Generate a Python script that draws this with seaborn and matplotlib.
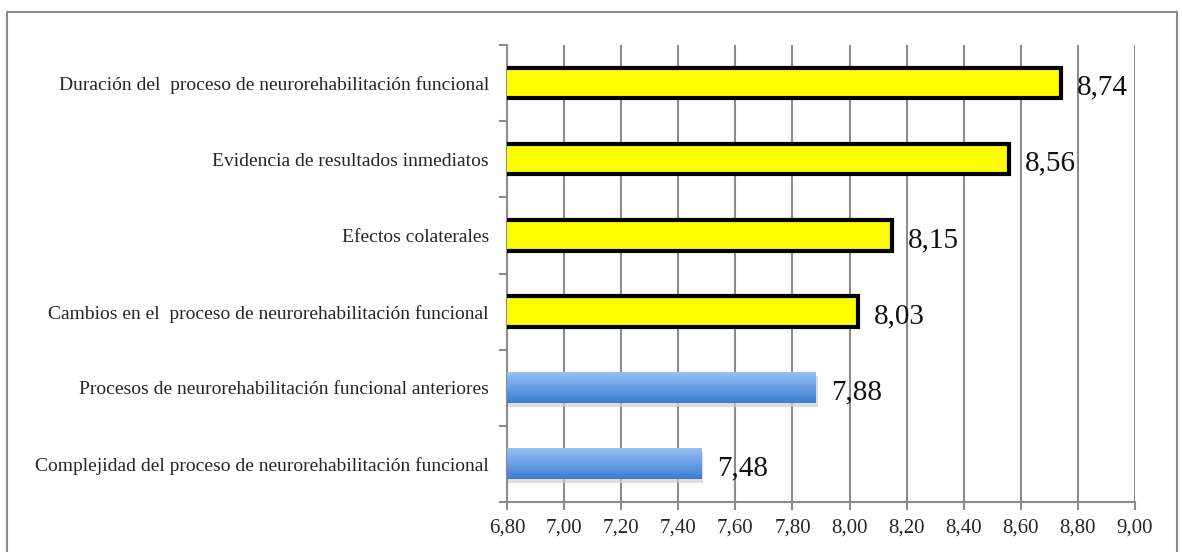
import numpy as np
import pandas as pd
import matplotlib
matplotlib.use("Agg")
import matplotlib.pyplot as plt
import seaborn as sns
from matplotlib.patches import Rectangle
from matplotlib.ticker import FuncFormatter, FixedLocator

# data, top to bottom as shown
categories = [
    "Duración del  proceso de neurorehabilitación funcional",
    "Evidencia de resultados inmediatos",
    "Efectos colaterales",
    "Cambios en el  proceso de neurorehabilitación funcional",
    "Procesos de neurorehabilitación funcional anteriores",
    "Complejidad del proceso de neurorehabilitación funcional",
]
values = [8.74, 8.56, 8.15, 8.03, 7.88, 7.48]
highlight = [True, True, True, True, False, False]

df = pd.DataFrame({"item": categories, "score": values})

sns.set_style("white")
plt.rcParams["font.family"] = ["Liberation Serif", "DejaVu Serif"]

fig = plt.figure(figsize=(11.82, 5.52), dpi=100)
ax = fig.add_axes([507 / 1182, 1 - 502 / 552, 628 / 1182, 457 / 552])

base = 6.80
sns.barplot(data=df, x="score", y="item", orient="h", width=0.4,
            color="#ffff00", ax=ax, zorder=3)

cmap = matplotlib.colors.LinearSegmentedColormap.from_list(
    "b", ["#95bff6", "#6a9fe6", "#3e7bd0"])
grad = np.linspace(0, 1, 64).reshape(-1, 1)

for bar, hi in zip(ax.patches, highlight):
    if hi:
        bar.set_facecolor("#ffff00")
        bar.set_edgecolor("black")
        bar.set_linewidth(3)
    else:
        bar.set_visible(False)
        y0, h = bar.get_y(), bar.get_height()
        x1 = bar.get_x() + bar.get_width()
        # soft shadow
        ax.add_patch(Rectangle((base, y0 + 0.05), x1 - base + 0.008, h,
                               facecolor="#cfcfcf", edgecolor="none", zorder=2, alpha=0.7))
        ax.imshow(grad, cmap=cmap, aspect="auto", interpolation="bilinear",
                  extent=(base, x1, y0 + h, y0), zorder=3)

ax.set_xlim(6.80, 9.00)
ax.set_ylim(5.5, -0.5)

for i, v in enumerate(values):
    ax.text(v + 0.055, i + 0.06, f"{v:.2f}".replace(".", ","), va="center",
            ha="left", fontsize=21, color="#111111", zorder=4)

xt = np.round(np.arange(6.80, 9.001, 0.20), 2)
ax.set_xticks(xt)
ax.xaxis.set_major_formatter(FuncFormatter(lambda x, p: f"{x:.2f}".replace(".", ",")))
ax.grid(axis="x", color="#8c8c8c", linewidth=1.5, zorder=0)
ax.grid(axis="y", visible=False)
ax.set_axisbelow(True)

ax.yaxis.set_minor_locator(FixedLocator(np.arange(-0.5, 6.0, 1.0)))
ax.tick_params(axis="y", which="major", length=0, pad=13, labelsize=14)
ax.tick_params(axis="y", which="minor", length=6, width=1.5, color="#8c8c8c", left=True)
ax.tick_params(axis="x", which="major", length=6, width=1.5, color="#8c8c8c",
               bottom=True, labelsize=15, pad=6)
ax.set_xlabel("")
ax.set_ylabel("")

for s in ["top", "right"]:
    ax.spines[s].set_visible(False)
for s in ["left", "bottom"]:
    ax.spines[s].set_color("#8c8c8c")
    ax.spines[s].set_linewidth(1.5)

fig.patches.append(Rectangle((7 / 1182, -0.02), 1170 / 1182, 1.02 - 12 / 552,
                             transform=fig.transFigure, fill=False,
                             edgecolor="#8a8a8a", linewidth=1.5))

fig.savefig("out.png", dpi=100)
plt.close(fig)
